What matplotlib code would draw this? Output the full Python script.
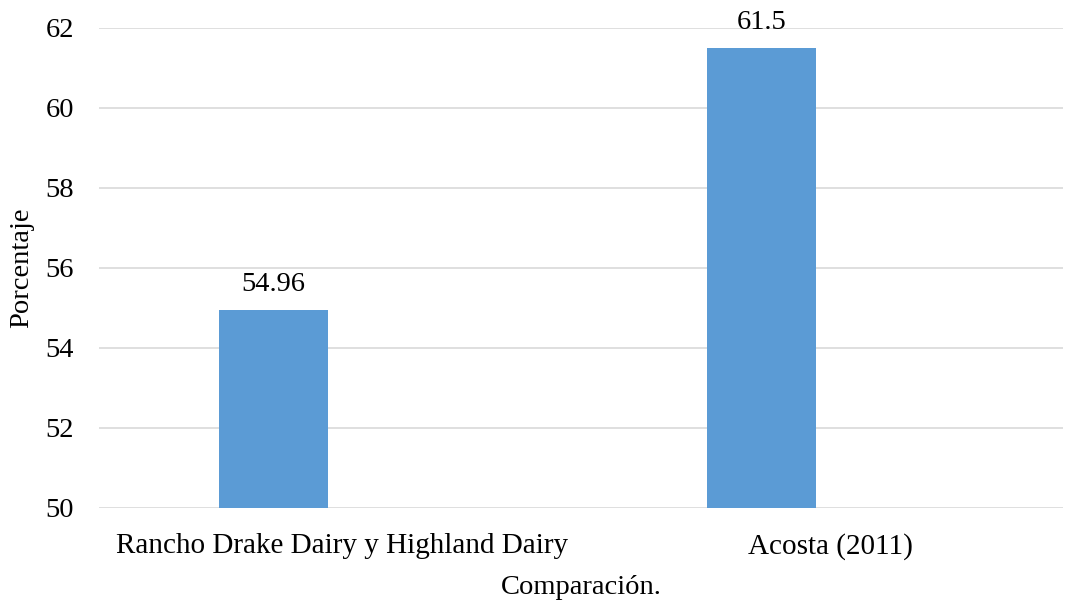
import matplotlib.pyplot as plt
import numpy as np

categories = ['Rancho Drake Dairy y Highland Dairy', 'Acosta (2011)']
values = [54.96, 61.5]
value_labels = ['54.96', '61.5']
yticks = [50, 52, 54, 56, 58, 60, 62]

plt.rcParams['font.family'] = ['Liberation Serif', 'DejaVu Serif']
fs = 20.5

fig = plt.figure(figsize=(10.65, 6), dpi=100)
ax = fig.add_axes([99/1065, 1-508/600, (1063-99)/1065, 480/600])

x = np.arange(len(categories))
# bar sits left of the category centre (Excel-style series offset)
ax.bar(x, values, width=0.223, color='#5B9BD5', zorder=3)
for xi, v, lab in zip(x, values, value_labels):
    ax.annotate(lab, (xi, v), xytext=(0, 9), textcoords='offset points',
                ha='center', va='bottom', fontsize=fs)

ax.set_ylim(50, 62)
ax.set_xlim(-0.3575, 1.618)
ax.set_yticks(yticks)
ax.set_xticks(x + 0.141)
ax.set_xticklabels(categories, fontsize=21)
ax.tick_params(axis='y', labelsize=fs)
ax.tick_params(axis='both', length=0, colors='black')
ax.tick_params(axis='x', pad=18)
ax.tick_params(axis='y', pad=18)
ax.grid(axis='y', color='#D9D9D9', linewidth=1.2, zorder=0)
for s in ax.spines.values():
    s.set_visible(False)

ax.set_ylabel('Porcentaje', fontsize=fs, labelpad=8)
ax.set_xlabel('Comparación.', fontsize=fs, labelpad=11)

fig.savefig('out.png', dpi=100)
